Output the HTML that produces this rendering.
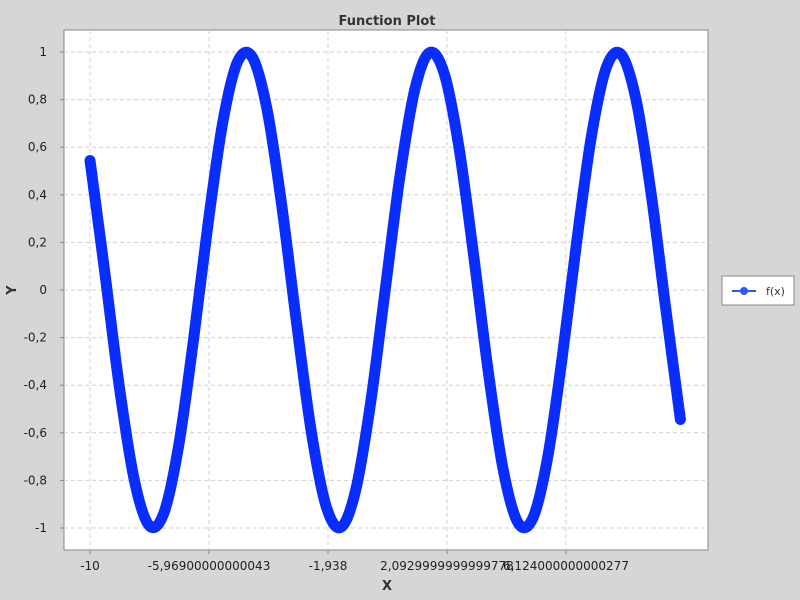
<!DOCTYPE html>
<html><head><meta charset="utf-8"><style>
body{margin:0;background:#d6d6d6;}
svg{display:block;font-family:"DejaVu Sans","Liberation Sans",sans-serif;}
</style></head><body>
<svg id="chart" width="800" height="600">
<rect x="0" y="0" width="800" height="600" fill="#d6d6d6"/>
<text x="387" y="25" text-anchor="middle" font-size="13" font-weight="bold" fill="#333">Function Plot</text>
<rect x="64" y="30" width="644" height="520" fill="#fff" stroke="#888"/>
<g id="grid"></g>
<g id="axes"></g>
<g id="series"></g>
<text x="387" y="590" text-anchor="middle" font-size="13" font-weight="bold" fill="#333">X</text>
<text transform="translate(16,290) rotate(-90)" text-anchor="middle" font-size="13" font-weight="bold" fill="#333">Y</text>
<g>
<rect x="722" y="276" width="72" height="29" fill="#fff" stroke="#888"/>
<line x1="732" y1="291" x2="756" y2="291" stroke="#3355ff" stroke-width="2"/>
<circle cx="744" cy="291" r="4" fill="#3355ff"/>
<text x="766" y="295" font-size="11" fill="#333">f(x)</text>
</g>
</svg>
<script>
const xValues=[-10,-9.5,-9,-8.5,-8,-7.5,-7,-6.5,-6,-5.5,-5,-4.5,-4,-3.5,-3,-2.5,-2,-1.5,-1,-0.5,0,0.5,1,1.5,2,2.5,3,3.5,4,4.5,5,5.5,6,6.5,7,7.5,8,8.5,9,9.5,10];
const yValues=[0.544,0.075,-0.412,-0.798,-0.989,-0.938,-0.657,-0.215,0.279,0.706,0.959,0.978,0.757,0.351,-0.141,-0.598,-0.909,-0.997,-0.841,-0.479,0,0.479,0.841,0.997,0.909,0.598,0.141,-0.351,-0.757,-0.978,-0.959,-0.706,-0.279,0.215,0.657,0.938,0.989,0.798,0.412,-0.075,-0.544];
const xTicks=[-10,-5.969,-1.938,2.093,6.124];
const xTickLabels=["-10","-5,96900000000043","-1,938","2,0929999999999778","6,124000000000277"];
const yTicks=[1,0.8,0.6,0.4,0.2,0,-0.2,-0.4,-0.6,-0.8,-1];
const yTickLabels=["1","0,8","0,6","0,4","0,2","0","-0,2","-0,4","-0,6","-0,8","-1"];

const NS="http://www.w3.org/2000/svg";
function xs(v){return 90+(v+10)*29.52;}
function ys(v){return 290-v*238;}
function mk(tag,attrs,parent){const e=document.createElementNS(NS,tag);for(const k in attrs)e.setAttribute(k,attrs[k]);parent.appendChild(e);return e;}
const grid=document.getElementById('grid'),axes=document.getElementById('axes'),series=document.getElementById('series');
xTicks.forEach((t,i)=>{
 const g=mk('line',{x1:xs(t),x2:xs(t),y1:30,y2:550,stroke:'#d0d0d0','stroke-dasharray':'4,3'},grid);
 
 
 const tk=mk('line',{x1:xs(t),x2:xs(t),y1:550,y2:554,stroke:'#888'},axes);
 
 
 const tx=mk('text',{x:xs(t),y:570,'text-anchor':'middle','font-size':12,fill:'#222'},axes);
 tx.textContent=xTickLabels[i];
 
 
});
yTicks.forEach((t,i)=>{
 const g=mk('line',{x1:64,x2:708,y1:ys(t),y2:ys(t),stroke:'#d0d0d0','stroke-dasharray':'4,3'},grid);
 
 
 const tk=mk('line',{x1:60,x2:64,y1:ys(t),y2:ys(t),stroke:'#888'},axes);
 
 
 const tx=mk('text',{x:47,y:ys(t)+4,'text-anchor':'end','font-size':12,fill:'#222'},axes);
 tx.textContent=yTickLabels[i];
 
 
});
const P=xValues.map((x,i)=>[xs(x),ys(yValues[i])]);
let d='M'+P[0][0]+','+P[0][1];
for(let i=0;i<P.length-1;i++){
 const p0=P[Math.max(0,i-1)],p1=P[i],p2=P[i+1],p3=P[Math.min(P.length-1,i+2)];
 const c1=[p1[0]+(p2[0]-p0[0])/6,p1[1]+(p2[1]-p0[1])/6];
 const c2=[p2[0]-(p3[0]-p1[0])/6,p2[1]-(p3[1]-p1[1])/6];
 d+=' C'+c1+' '+c2+' '+p2;
}
const path=mk('path',{d:d,fill:'none',stroke:'#0a2dff','stroke-width':11,'stroke-linecap':'round','stroke-linejoin':'round'},series);


</script>
</body></html>
